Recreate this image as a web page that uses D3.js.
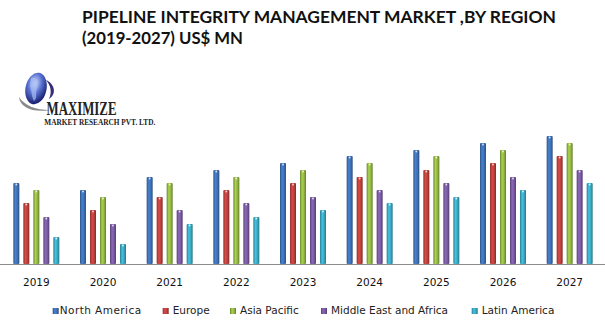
<!DOCTYPE html>
<html>
<head>
<meta charset="utf-8">
<script src="https://cdn.jsdelivr.net/npm/d3@7"></script>
<style>
  body { margin: 0; background: #fff; }
  svg { display: block; }
</style>
</head>
<body>
<script>
// data (relative units, no axis shown)
const years = ["2019", "2020", "2021", "2022", "2023", "2024", "2025", "2026", "2027"]
const regions = ["North America", "Europe", "Asia Pacific", "Middle East and Africa", "Latin America"]
const northAmerica = [81, 74, 87, 94, 101, 108, 114, 121, 128]
const europe       = [61, 54, 67, 74, 81, 87, 94, 101, 108]
const asiaPacific  = [74, 67, 81, 87, 94, 101, 108, 114, 121]
const middleEast   = [47, 40, 54, 61, 67, 74, 81, 87, 94]
const latinAmerica = [27, 20, 40, 47, 54, 61, 67, 74, 81]
const colors = ["#3f72b8", "#c0413d", "#94b944", "#7b5ba3", "#3aabc6"]

const series = [northAmerica, europe, asiaPacific, middleEast, latinAmerica]
const rows = years.map((y, i) => ({ year: y, values: regions.map((r, j) => ({ region: r, idx: j, value: series[j][i] })) }))

width = 605
height = 329
const baseY = 264

const svg = d3.select("body").append("svg")
    .attr("width", width)
    .attr("height", height)

const defs = svg.append("defs")
colors.forEach((c, i) => {
    const g = defs.append("linearGradient").attr("id", "bar" + i)
        .attr("x1", 0).attr("x2", 1).attr("y1", 0).attr("y2", 0)
    const col = d3.color(c)
    g.append("stop").attr("offset", "0%").attr("stop-color", col.darker(0.9))
    g.append("stop").attr("offset", "35%").attr("stop-color", col.brighter(0.35))
    g.append("stop").attr("offset", "65%").attr("stop-color", col)
    g.append("stop").attr("offset", "100%").attr("stop-color", col.darker(1.1))
})
const globeGrad = defs.append("radialGradient").attr("id", "globe")
    .attr("cx", "40%").attr("cy", "35%").attr("r", "65%")
globeGrad.append("stop").attr("offset", "0%").attr("stop-color", "#d4defc")
globeGrad.append("stop").attr("offset", "50%").attr("stop-color", "#5670d0")
globeGrad.append("stop").attr("offset", "100%").attr("stop-color", "#1a2070")

// title
const title = svg.append("g")
    .style("font-family", "Lato, 'Liberation Sans', sans-serif")
    .style("font-weight", "bold")
    .style("font-size", "17px")
    .attr("fill", "#111")
title.append("text").attr("x", 82).attr("y", 22.5)
    .attr("textLength", 474).attr("lengthAdjust", "spacingAndGlyphs")
    .text("PIPELINE INTEGRITY MANAGEMENT MARKET ,BY REGION")
title.append("text").attr("x", 82).attr("y", 44)
    .attr("textLength", 161).attr("lengthAdjust", "spacingAndGlyphs")
    .text("(2019-2027) US$ MN")

// logo
const logo = svg.append("g")
logo.append("path")
    .attr("d", "M19,97 C20,108 34,113 50,110 C36,110 25,106 19,97 Z")
    .attr("fill", "#8a8a8a")
logo.append("path")
    .attr("d", "M46,80 C55,84 57,94 49,99 C52,92 51,86 46,80 Z")
    .attr("fill", "#3a2a78")
logo.append("ellipse").attr("cx", 36).attr("cy", 88.5).attr("rx", 10.5).attr("ry", 16)
    .attr("transform", "rotate(12,36,88.5)")
    .attr("fill", "url(#globe)")
logo.append("path")
    .attr("d", "M31,78 C36,76 40,82 37,88 C35,94 38,98 34,101 C31,96 32,90 30,86 Z")
    .attr("fill", "#a9bdf3").attr("opacity", 0.7)
logo.append("text").attr("x", 46.5).attr("y", 114.5)
    .attr("textLength", 70).attr("lengthAdjust", "spacingAndGlyphs")
    .style("font-family", "'Liberation Serif', serif").style("font-weight", "bold")
    .style("font-size", "19px").attr("fill", "#222")
    .text("MAXIMIZE")
logo.append("text").attr("x", 44.3).attr("y", 125.3)
    .attr("textLength", 111).attr("lengthAdjust", "spacingAndGlyphs")
    .style("font-family", "'Liberation Serif', serif").style("font-weight", "bold")
    .style("font-size", "8px").attr("fill", "#222")
    .text("MARKET RESEARCH PVT. LTD.")

// scales
const x0 = d3.scaleBand().domain(years).range([3, 603])
const x1 = d3.scaleBand().domain(regions).range([-23, 23]).paddingInner(0.4).paddingOuter(0)
const y = d3.scaleLinear().domain([0, 140]).range([baseY, baseY - 140])

// bars
const groups = svg.append("g").selectAll("g")
    .data(rows)
    .join("g")
    .attr("transform", d => `translate(${x0(d.year) + x0.bandwidth() / 2},0)`)

groups.selectAll("rect")
    .data(d => d.values)
    .join("rect")
    .attr("x", d => x1(d.region))
    .attr("y", d => y(d.value))
    .attr("width", x1.bandwidth())
    .attr("height", d => y(0) - y(d.value))
    .attr("rx", 1)
    .attr("fill", d => "url(#bar" + d.idx + ")")

groups.selectAll("circle")
    .data(d => d.values)
    .join("circle")
    .attr("cx", d => x1(d.region) + x1.bandwidth() / 2)
    .attr("cy", d => y(d.value) + 1.5)
    .attr("r", 0.9)
    .attr("fill", "#fff")
    .attr("opacity", 0.8)

// axis
const axis = svg.append("g")
    .attr("transform", `translate(0,${baseY})`)
    .call(d3.axisBottom(x0).tickSize(0).tickPadding(15))
axis.select(".domain").attr("d", "M0,0.5H605").attr("stroke", "#8c8c8c")
axis.selectAll("text")
    .style("font-family", "'DejaVu Sans', sans-serif")
    .style("font-size", "10.5px")
    .attr("fill", "#111")

// legend
const legendX = [52.7, 162.7, 230, 321, 471.7]
const legend = svg.append("g").selectAll("g")
    .data(regions)
    .join("g")
    .attr("transform", (d, i) => `translate(${legendX[i]},308)`)
legend.append("rect")
    .attr("width", 6).attr("height", 6)
    .attr("fill", (d, i) => "url(#bar" + i + ")")
legend.append("text")
    .attr("x", (d, i) => i == 0 ? 7 : 10).attr("y", 6)
    .style("font-family", "'DejaVu Sans', sans-serif")
    .style("font-size", "10.5px")
    .style("letter-spacing", (d, i) => i == 0 ? "0.45px" : null)
    .attr("fill", "#222")
    .text(d => d)
</script>
</body>
</html>
